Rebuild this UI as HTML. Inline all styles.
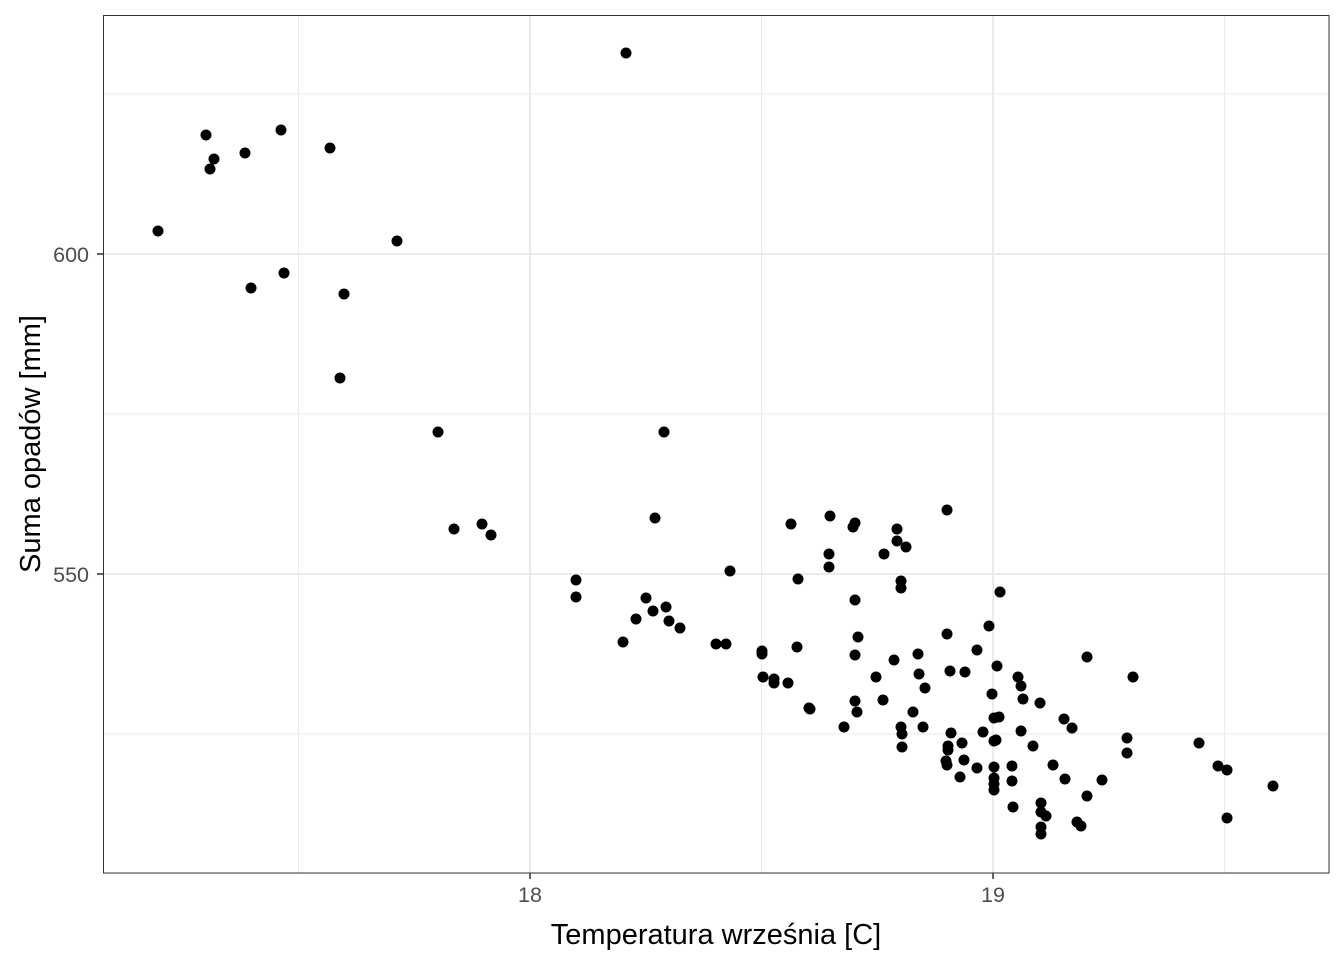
<!DOCTYPE html>
<html><head><meta charset="utf-8"><style>body{margin:0;background:#fff}</style></head><body>
<svg width="1344" height="960" xmlns="http://www.w3.org/2000/svg" font-family="Liberation Sans, sans-serif">
<rect width="1344" height="960" fill="#fff"/>
<g stroke="#ebebeb" stroke-width="1">
<line x1="103" x2="1329" y1="94" y2="94"/><line x1="103" x2="1329" y1="414" y2="414"/><line x1="103" x2="1329" y1="734" y2="734"/>
<line x1="298.5" x2="298.5" y1="15" y2="873"/><line x1="761.5" x2="761.5" y1="15" y2="873"/><line x1="1224.5" x2="1224.5" y1="15" y2="873"/>
</g>
<g stroke="#ebebeb" stroke-width="2">
<line x1="103" x2="1329" y1="254" y2="254"/><line x1="103" x2="1329" y1="574" y2="574"/>
<line x1="530" x2="530" y1="15" y2="873"/><line x1="993" x2="993" y1="15" y2="873"/>
</g>
<rect x="103.5" y="15.5" width="1225.5" height="857.5" fill="none" stroke="#333" stroke-width="1"/>
<g stroke="#333" stroke-width="1.5"><line x1="97" x2="103" y1="254" y2="254"/><line x1="97" x2="103" y1="574" y2="574"/><line x1="530" x2="530" y1="873" y2="879"/><line x1="993" x2="993" y1="873" y2="879"/></g>
<g font-size="21.5" fill="#4d4d4d"><text x="89" y="262" text-anchor="end">600</text><text x="89" y="582" text-anchor="end">550</text>
<text x="530" y="902" text-anchor="middle">18</text><text x="993" y="902" text-anchor="middle">19</text></g>
<text x="716" y="944" text-anchor="middle" font-size="29">Temperatura września [C]</text>
<text transform="translate(40,444) rotate(-90)" text-anchor="middle" font-size="29">Suma opadów [mm]</text>
<g fill="#000" id="p"></g>
</svg>
<script>
var pts=[[626,53],[158,231],[206,135],[214,159],[210,169],[245,153],[281,130],[330,148],[397,241],[284,273],[251,288],[344,294],[340,378],[438,432],[664,432],[454,529],[482,524],[491,535],[655,518],[576,580],[576,597],[646,598],[636,619],[653,611],[666,607],[669,621],[680,628],[623,642],[716,644],[726,644],[730,571],[762,651],[762,654],[763,677],[774,679],[774,683],[788,683],[797,647],[809,708],[810,709],[798,579],[791,524],[830,516],[829,554],[829,567],[853,527],[855,523],[855,600],[858,637],[855,655],[855,701],[857,712],[844,727],[876,677],[883,700],[884,554],[897,529],[897,541],[906,547],[901,581],[901,588],[894,660],[901,727],[902,734],[902,747],[913,712],[918,654],[919,674],[923,727],[925,688],[947,510],[947,634],[950,671],[965,672],[977,650],[951,733],[948,746],[948,750],[946,761],[947,765],[962,743],[964,760],[960,777],[977,768],[983,732],[989,626],[992,694],[994,718],[996,740],[994,741],[994,767],[994,778],[994,784],[994,790],[999,717],[997,666],[1000,592],[1012,766],[1012,781],[1013,807],[1018,677],[1021,686],[1023,699],[1021,731],[1033,746],[1040,703],[1041,803],[1041,812],[1041,827],[1041,834],[1046,816],[1053,765],[1064,719],[1065,779],[1072,728],[1077,822],[1081,826],[1087,657],[1087,796],[1102,780],[1127,738],[1127,753],[1133,677],[1199,743],[1218,766],[1227,770],[1227,818],[1273,786]];
var g=document.getElementById('p'),s='';
pts.forEach(function(p){s+='<circle cx="'+p[0]+'" cy="'+p[1]+'" r="5.5"/>';});
g.innerHTML=s;
</script>
</body></html>
